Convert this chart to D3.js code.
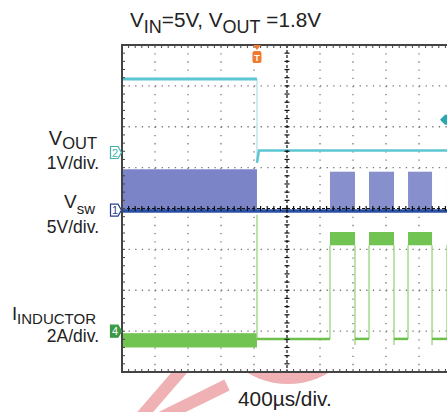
<!DOCTYPE html>
<html>
<head>
<meta charset="utf-8">
<script src="https://cdn.jsdelivr.net/npm/d3@7"></script>
<style>
  body { margin: 0; background: #fff; }
  svg { display: block; font-family: "Liberation Sans", Arial, sans-serif; }
</style>
</head>
<body>
<script>
// scope settings
const timePerDiv = 400;      // µs / div
const hDivs = 10, vDivs = 8;
const triggerTime = 1636;    // µs from left edge of screen

// channel ground positions (div from centre) and scale per div
const chGround = {vout: 1.37, vsw: -0.04, il: -3.0};
const chPerDiv = {vout: 1, vsw: 5, il: 2};

// VOUT trace (µs, V)
const voutTime  = [0, 1636, 1636, 1660, 4000];
const voutValue = [1.8, 1.8, -0.25, 0.05, 0.05];

// VSW switching bursts: start, end (µs), peak (V)
const vswStart = [0, 2521, 2994, 3467, 3939];
const vswEnd   = [1636, 2824, 3297, 3758, 4000];
const vswPeak  = [5.0, 4.7, 4.7, 4.7, 4.7];

// inductor current (A)
const ilPreBand = [-0.8, -0.1];          // noisy band before trigger
const ilSpike = 5.7;                      // spike at trigger
const ilLow = -0.38;                      // current between pulses
const ilPulseStart = [2521, 2994, 3467, 3939];
const ilPulseEnd   = [2824, 3297, 3758, 4000];
const ilHighBand = [4.2, 4.85];

const W = 447, H = 412;
const svg = d3.select("body").append("svg").attr("width", W).attr("height", H);

const x = d3.scaleLinear().domain([0, hDivs * timePerDiv]).range([122, 452]);
const y = d3.scaleLinear().domain([-vDivs / 2, vDivs / 2]).range([372, 45]);
const ch = (c, v) => y(chGround[c] + v / chPerDiv[c]);
const divH = y(0) - y(1), divW = x(timePerDiv) - x(0);

const defs = svg.append("defs");
defs.append("clipPath").attr("id", "plot")
   .append("rect").attr("x", x(0)).attr("y", y(4)).attr("width", x(4000) - x(0)).attr("height", y(-4) - y(4));
defs.append("clipPath").attr("id", "below")
   .append("rect").attr("x", 0).attr("y", 373).attr("width", W).attr("height", H - 373);

// watermark (pale pink strokes under the screen)
const wm = svg.append("g").attr("clip-path", "url(#below)")
  .attr("fill", "none").attr("stroke", "#efb1b3").attr("stroke-width", 12);
wm.append("line").attr("x1", 140).attr("y1", 418).attr("x2", 185).attr("y2", 366);
wm.append("line").attr("x1", 160).attr("y1", 418).attr("x2", 227).attr("y2", 385);
wm.append("circle").attr("cx", 288).attr("cy", 305).attr("r", 72).attr("stroke-width", 14);

// grid
const grid = svg.append("g");
d3.range(1, hDivs).filter(i => i !== 5).forEach(i => {
  grid.append("line")
      .attr("x1", x(i * timePerDiv)).attr("x2", x(i * timePerDiv))
      .attr("y1", y(4)).attr("y2", y(-4))
      .attr("stroke", "#777").attr("stroke-width", 1.3)
      .attr("stroke-dasharray", `1.3 ${divH / 5 - 1.3}`);
});
d3.range(-3, 4).filter(j => j !== 0).forEach(j => {
  grid.append("line")
      .attr("x1", x(0)).attr("x2", x(4000))
      .attr("y1", y(j)).attr("y2", y(j))
      .attr("stroke", "#777").attr("stroke-width", 1.3)
      .attr("stroke-dasharray", `1.3 ${divW / 5 - 1.3}`);
});

// traces
const tr = svg.append("g").attr("clip-path", "url(#plot)");

// VSW
tr.selectAll(".burst")
  .data(vswStart.map((s, i) => ({s, e: vswEnd[i], p: vswPeak[i], first: i === 0})))
  .join("rect")
  .attr("x", d => x(d.s)).attr("width", d => x(d.e) - x(d.s))
  .attr("y", d => ch("vsw", d.p)).attr("height", d => ch("vsw", 0) - ch("vsw", d.p))
  .attr("fill", d => d.first ? "#7b84c6" : "#8790cd");
tr.append("line")
  .attr("x1", x(0)).attr("x2", x(4000))
  .attr("y1", ch("vsw", -0.1)).attr("y2", ch("vsw", -0.1))
  .attr("stroke", "#2a50a6").attr("stroke-width", 3.5);

// VOUT
tr.append("line")
  .attr("x1", x(voutTime[1])).attr("x2", x(voutTime[2]))
  .attr("y1", ch("vout", voutValue[1])).attr("y2", ch("vout", voutValue[2]))
  .attr("stroke", "#b3e2ea").attr("stroke-width", 1.3);
tr.append("line")
  .attr("x1", x(voutTime[0])).attr("x2", x(voutTime[1]))
  .attr("y1", ch("vout", voutValue[0])).attr("y2", ch("vout", voutValue[1]))
  .attr("stroke", "#5cc6d2").attr("stroke-width", 3);
tr.append("path")
  .attr("d", d3.line().x(d => x(d[0])).y(d => ch("vout", d[1]))(voutTime.slice(2).map((t, i) => [t, voutValue[i + 2]])))
  .attr("fill", "none").attr("stroke", "#5cc6d2").attr("stroke-width", 2.5);

// inductor current
tr.append("rect")
  .attr("x", x(0)).attr("width", x(triggerTime) - x(0))
  .attr("y", ch("il", ilPreBand[1])).attr("height", ch("il", ilPreBand[0]) - ch("il", ilPreBand[1]))
  .attr("fill", "#72c452");
// edges (thin, light)
const edges = [[triggerTime, ilLow, ilSpike]];
ilPulseStart.forEach((s, i) => { edges.push([s, ilLow, ilHighBand[0]]); edges.push([ilPulseEnd[i], ilLow - 0.3, ilHighBand[0]]); });
tr.selectAll(".edge").data(edges).join("line")
  .attr("x1", d => x(d[0])).attr("x2", d => x(d[0]))
  .attr("y1", d => ch("il", d[1])).attr("y2", d => ch("il", d[2]))
  .attr("stroke", "#9fd786").attr("stroke-width", 1.4);
// low segments
const lows = [[triggerTime, ilPulseStart[0]]];
ilPulseEnd.forEach((e, i) => { if (i + 1 < ilPulseStart.length) lows.push([e, ilPulseStart[i + 1]]); });
tr.selectAll(".low").data(lows).join("line")
  .attr("x1", d => x(d[0])).attr("x2", d => x(d[1]))
  .attr("y1", ch("il", ilLow)).attr("y2", ch("il", ilLow))
  .attr("stroke", "#6cc04a").attr("stroke-width", 2.5);
tr.selectAll(".high").data(ilPulseStart.map((s, i) => [s, ilPulseEnd[i]])).join("rect")
  .attr("x", d => x(d[0])).attr("width", d => x(d[1]) - x(d[0]))
  .attr("y", ch("il", ilHighBand[1])).attr("height", ch("il", ilHighBand[0]) - ch("il", ilHighBand[1]))
  .attr("fill", "#72c452");

// centre lines with ticks
const cl = svg.append("g").attr("stroke", "#111").attr("stroke-width", 1.2);
cl.append("line").attr("x1", x(2000)).attr("x2", x(2000)).attr("y1", y(4)).attr("y2", y(-4)).attr("stroke-dasharray", "3 2");
cl.append("line").attr("x1", x(0)).attr("x2", x(4000)).attr("y1", y(0)).attr("y2", y(0)).attr("stroke-dasharray", "3 2");
d3.range(-20, 21).forEach(k => {
  cl.append("line").attr("x1", x(2000) - 2.5).attr("x2", x(2000) + 2.5).attr("y1", y(k / 5)).attr("y2", y(k / 5));
});
d3.range(0, 51).forEach(k => {
  cl.append("line").attr("x1", x(k * 80)).attr("x2", x(k * 80)).attr("y1", y(0) - 2.5).attr("y2", y(0) + 2.5);
});

// border with ticks
const bd = svg.append("g").attr("stroke", "#444");
bd.append("rect").attr("x", x(0)).attr("y", y(4)).attr("width", x(4000) - x(0)).attr("height", y(-4) - y(4))
  .attr("fill", "none").attr("stroke-width", 2);
d3.range(1, 50).forEach(k => {
  bd.append("line").attr("x1", x(k * 80)).attr("x2", x(k * 80)).attr("y1", y(4)).attr("y2", y(4) + 3).attr("stroke-width", 1);
  bd.append("line").attr("x1", x(k * 80)).attr("x2", x(k * 80)).attr("y1", y(-4)).attr("y2", y(-4) - 3).attr("stroke-width", 1);
});
d3.range(1, 40).forEach(k => {
  bd.append("line").attr("x1", x(0)).attr("x2", x(0) + 3).attr("y1", y(-4 + k / 5)).attr("y2", y(-4 + k / 5)).attr("stroke-width", 1);
});

// trigger marker
const tx = x(triggerTime);
svg.append("path").attr("d", `M${tx - 4},${y(4)} L${tx + 4},${y(4)} L${tx},${y(4) + 5} Z`).attr("fill", "#f07a30");
svg.append("rect").attr("x", tx - 4.5).attr("y", y(4) + 6).attr("width", 9).attr("height", 12).attr("rx", 2).attr("fill", "#f07a30");
svg.append("text").attr("x", tx).attr("y", y(4) + 15.5).attr("text-anchor", "middle")
   .attr("font-size", 9).attr("font-weight", "bold").attr("fill", "#fff").text("T");

// trigger level marker (right edge)
svg.append("path").attr("d", `M440,${y(2.17)} L445,${y(2.17) - 5} L450,${y(2.17) - 5} L450,${y(2.17) + 5} L445,${y(2.17) + 5} Z`).attr("fill", "#2aa8b0");

// channel markers
function chMarker(id, gy, stroke, fill, textFill) {
  const g = svg.append("g");
  g.append("path").attr("d", `M110.5,${gy - 6} L118,${gy - 6} L121.5,${gy} L118,${gy + 6} L110.5,${gy + 6} Z`)
   .attr("fill", fill).attr("stroke", stroke).attr("stroke-width", 1.2);
  g.append("text").attr("x", 115).attr("y", gy + 4).attr("text-anchor", "middle")
   .attr("font-size", 11).attr("fill", textFill).text(id);
}
chMarker("2", ch("vout", 0), "#3fb3ac", "#fff", "#3fb3ac");
chMarker("1", ch("vsw", 0), "#2b3f8c", "#fff", "#2b3f8c");
chMarker("4", ch("il", 0), "#3a9a45", "#3a9a45", "#fff");

// labels
const ink = "#222";
function subLabel(xr, yb, main, sub, mainSize, subSize, dy) {
  const t = svg.append("text").attr("x", xr).attr("y", yb).attr("text-anchor", "end").attr("fill", ink);
  t.append("tspan").attr("font-size", mainSize).text(main);
  t.append("tspan").attr("font-size", subSize).attr("dy", dy).text(sub);
}
const title = svg.append("text").attr("x", 130).attr("y", 27).attr("fill", ink).attr("font-size", 20.7);
title.append("tspan").text("V");
title.append("tspan").attr("font-size", 18).attr("dy", 6).text("IN");
title.append("tspan").attr("dy", -6).text("=5V, V");
title.append("tspan").attr("font-size", 18).attr("dy", 6).text("OUT");
title.append("tspan").attr("dy", -6).text(" =1.8V");

subLabel(97, 145, "V", "OUT", 20, 16.5, 4);
svg.append("text").attr("x", 99).attr("y", 169).attr("text-anchor", "end").attr("font-size", 17.5).attr("fill", ink).text("1V/div.");
subLabel(95, 208, "V", "sw", 19, 15, 6);
svg.append("text").attr("x", 99).attr("y", 233).attr("text-anchor", "end").attr("font-size", 17.5).attr("fill", ink).text("5V/div.");
subLabel(96, 320, "I", "INDUCTOR", 18.5, 15, 3.5);
svg.append("text").attr("x", 99).attr("y", 342).attr("text-anchor", "end").attr("font-size", 17.5).attr("fill", ink).text("2A/div.");

svg.append("text").attr("x", 238).attr("y", 405.5).attr("font-size", 20.8).attr("fill", ink).text("400µs/div.");
</script>
</body>
</html>
